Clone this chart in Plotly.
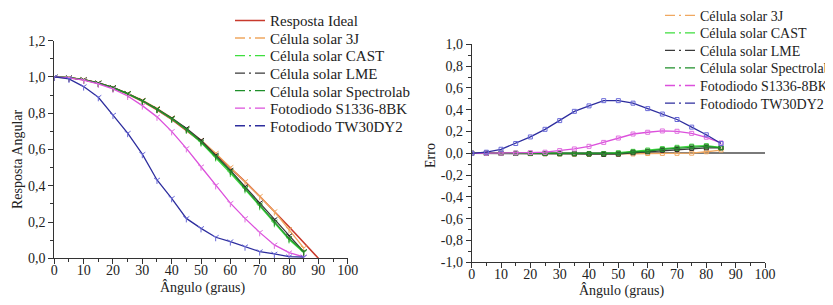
import plotly.graph_objects as go

# ---------------- data ----------------
angles_ideal = [0, 5, 10, 15, 20, 25, 30, 35, 40, 45, 50, 55, 60, 65, 70, 75, 80, 85, 90]
resp_ideal = [1.000, 0.996, 0.985, 0.966, 0.940, 0.906, 0.866, 0.819, 0.766, 0.707,
              0.643, 0.574, 0.500, 0.423, 0.342, 0.259, 0.174, 0.087, 0.000]

angles = [0, 5, 10, 15, 20, 25, 30, 35, 40, 45, 50, 55, 60, 65, 70, 75, 80, 85]

resp_3j = [1.000, 0.997, 0.987, 0.968, 0.943, 0.910, 0.872, 0.827, 0.775, 0.716,
           0.652, 0.580, 0.502, 0.424, 0.342, 0.258, 0.160, 0.057]
resp_cast = [1.000, 0.996, 0.985, 0.966, 0.940, 0.907, 0.868, 0.822, 0.769, 0.709,
             0.638, 0.556, 0.470, 0.380, 0.287, 0.193, 0.104, 0.032]
resp_lme = [1.000, 0.996, 0.985, 0.967, 0.942, 0.909, 0.870, 0.824, 0.773, 0.717,
            0.651, 0.569, 0.486, 0.395, 0.306, 0.214, 0.124, 0.037]
resp_spectrolab = [1.000, 0.996, 0.985, 0.966, 0.941, 0.908, 0.869, 0.823, 0.771, 0.711,
                   0.643, 0.562, 0.480, 0.387, 0.296, 0.201, 0.110, 0.037]
resp_s1336 = [1.000, 0.995, 0.983, 0.962, 0.934, 0.895, 0.842, 0.780, 0.700, 0.606,
              0.505, 0.402, 0.304, 0.220, 0.143, 0.074, 0.031, 0.008]
resp_tw30 = [1.000, 0.989, 0.947, 0.888, 0.790, 0.690, 0.574, 0.432, 0.331, 0.220,
             0.165, 0.116, 0.092, 0.064, 0.037, 0.024, 0.009, 0.006]

err_3j = [0.000, -0.001, -0.002, -0.002, -0.003, -0.004, -0.006, -0.008, -0.009, -0.009,
          -0.009, -0.006, -0.002, -0.001, 0.000, 0.001, 0.014, 0.030]
err_cast = [0.000, 0.000, 0.000, 0.000, 0.000, -0.001, -0.002, -0.003, -0.003, -0.002,
            0.005, 0.018, 0.030, 0.043, 0.055, 0.066, 0.070, 0.055]
err_lme = [0.000, 0.000, 0.000, -0.001, -0.002, -0.003, -0.004, -0.005, -0.007, -0.010,
           -0.008, 0.005, 0.014, 0.028, 0.036, 0.045, 0.050, 0.050]
err_spectrolab = [0.000, 0.000, 0.000, 0.000, -0.001, -0.002, -0.003, -0.004, -0.005, -0.004,
                  0.000, 0.012, 0.020, 0.036, 0.046, 0.058, 0.064, 0.050]
err_s1336 = [0.000, 0.000, 0.001, 0.003, 0.006, 0.010, 0.025, 0.040, 0.064, 0.100,
             0.140, 0.177, 0.193, 0.205, 0.202, 0.183, 0.147, 0.095]
err_tw30 = [0.000, 0.010, 0.037, 0.090, 0.150, 0.220, 0.300, 0.385, 0.435, 0.483,
            0.483, 0.460, 0.410, 0.360, 0.310, 0.240, 0.170, 0.090]

names = ["Célula solar 3J", "Célula solar CAST", "Célula solar LME",
         "Célula solar Spectrolab", "Fotodiodo S1336-8BK", "Fotodiodo TW30DY2"]
ideal_name = "Resposta Ideal"
x_title = "Ângulo (graus)"
y1_title = "Resposta Angular"
y2_title = "Erro"

x_ticks = [0, 10, 20, 30, 40, 50, 60, 70, 80, 90, 100]
y1_ticks = [0.0, 0.2, 0.4, 0.6, 0.8, 1.0, 1.2]
y1_labels = ["0,0", "0,2", "0,4", "0,6", "0,8", "1,0", "1,2"]
y2_ticks = [-1.0, -0.8, -0.6, -0.4, -0.2, 0.0, 0.2, 0.4, 0.6, 0.8, 1.0]
y2_labels = ["-1,0", "-0,8", "-0,6", "-0,4", "-0,2", "0,0", "0,2", "0,4", "0,6", "0,8", "1,0"]

# ---------------- styling ----------------
FONT = "Liberation Serif"
FS = 14
LEG_FS_LEFT = 15
LEG_FS_RIGHT = 14
TXT = "#222222"
ideal_color = "#c83a2c"
colors = ["#f0a860", "#3ede3e", "#3a3a3a", "#1f8f2a", "#dc50dc", "#2e2e9e"]
marker_colors = ["#f0a860", "#4cd84c", "#222222", "#2a8a2a", "#e070e0", "#6a6ad8"]
legend_dash = "10px,4px,2px,4px,12px"

resp = [resp_3j, resp_cast, resp_lme, resp_spectrolab, resp_s1336, resp_tw30]
errs = [err_3j, err_cast, err_lme, err_spectrolab, err_s1336, err_tw30]

# the page body adds an 8px margin, so the figure is 8px smaller and
# every pixel position below is given in figure coordinates (screen - 8)
W, H = 825, 297


def px_x(p):
    return p / W


def px_y(p):
    return (H - p) / H


fig = go.Figure()

left_leg_x = 222
left_leg_y0 = 12.7
right_leg_x = 652
right_leg_y0 = 7.7
leg_step = 17.55
legend_layouts = {}
leg_counter = [0]


def new_legend(xp, yp, fs):
    leg_counter[0] += 1
    key = "legend" if leg_counter[0] == 1 else "legend%d" % leg_counter[0]
    legend_layouts[key] = dict(x=px_x(xp), y=px_y(yp), xanchor="left", yanchor="middle",
                               bgcolor="rgba(0,0,0,0)", borderwidth=0,
                               font=dict(family=FONT, size=fs, color=TXT),
                               itemwidth=30, tracegroupgap=0)
    return key


# left chart
fig.add_trace(go.Scatter(x=angles_ideal, y=resp_ideal, mode="lines",
                         line=dict(color=ideal_color, width=1.6),
                         name=ideal_name, xaxis="x", yaxis="y",
                         legend=new_legend(left_leg_x, left_leg_y0, LEG_FS_LEFT),
                         showlegend=True))
for n, ys, c, mc in zip(names, resp, colors, marker_colors):
    fig.add_trace(go.Scatter(x=angles, y=ys, mode="lines+markers",
                             line=dict(color=c, width=1.3),
                             marker=dict(symbol="y-down", size=5,
                                         line=dict(color=mc, width=1)),
                             name=n, xaxis="x", yaxis="y", showlegend=False))
for i, (n, c) in enumerate(zip(names, colors)):
    fig.add_trace(go.Scatter(x=[None], y=[None], mode="lines",
                             line=dict(color=c, width=1.3, dash=legend_dash),
                             name=n, xaxis="x", yaxis="y",
                             legend=new_legend(left_leg_x, left_leg_y0 + leg_step * (i + 1),
                                               LEG_FS_LEFT),
                             showlegend=True))

# right chart
for n, ys, c, mc in zip(names, errs, colors, marker_colors):
    fig.add_trace(go.Scatter(x=angles, y=ys, mode="lines+markers",
                             line=dict(color=c, width=1.3),
                             marker=dict(symbol="square-open", size=4,
                                         color=mc, line=dict(color=mc, width=1)),
                             name=n, xaxis="x2", yaxis="y2", showlegend=False))
for i, (n, c) in enumerate(zip(names, colors)):
    fig.add_trace(go.Scatter(x=[None], y=[None], mode="lines",
                             line=dict(color=c, width=1.3, dash=legend_dash),
                             name=n, xaxis="x2", yaxis="y2",
                             legend=new_legend(right_leg_x, right_leg_y0 + leg_step * i,
                                               LEG_FS_RIGHT),
                             showlegend=True))

axis_common = dict(showline=True, linecolor="#333333", linewidth=1,
                   ticks="outside", ticklen=5, tickcolor="#333333",
                   showgrid=False, zeroline=False, automargin=False,
                   tickfont=dict(family=FONT, size=FS, color=TXT))
xminor = dict(ticks="outside", ticklen=3, dtick=5, tickcolor="#333333")
yminor = dict(ticks="outside", ticklen=3, dtick=0.1, tickcolor="#333333")


def title_ann(text, xp, yp, angle=0):
    return dict(text=text, x=px_x(xp), y=px_y(yp), xref="paper", yref="paper",
                xanchor="center", yanchor="middle", showarrow=False, textangle=angle,
                font=dict(family=FONT, size=FS, color=TXT))


fig.update_layout(
    template="none",
    width=W, height=H,
    margin=dict(l=0, r=0, t=0, b=0, pad=0, autoexpand=False),
    paper_bgcolor="white", plot_bgcolor="white",
    font=dict(family=FONT, size=FS, color=TXT),
    xaxis=dict(domain=[px_x(46.3), px_x(339.7)], range=[0, 100],
               tickvals=x_ticks, anchor="y", minor=xminor, ticklabelstandoff=-6,
               **axis_common),
    yaxis=dict(domain=[px_y(250.3), px_y(32.7)], range=[0, 1.2],
               tickvals=y1_ticks, ticktext=y1_labels, anchor="x", minor=yminor,
               **axis_common),
    xaxis2=dict(domain=[px_x(463.7), px_x(757)], range=[0, 100],
                tickvals=x_ticks, anchor="y2", minor=xminor, ticklabelstandoff=-6,
                **axis_common),
    yaxis2=dict(domain=[px_y(254.3), px_y(36.3)], range=[-1.0, 1.0],
                tickvals=y2_ticks, ticktext=y2_labels, anchor="x2", minor=yminor,
                **axis_common),
    annotations=[
        title_ann(x_title, 194.5, 279.5),
        title_ann(x_title, 613, 282),
        title_ann(y1_title, 9, 152, -90),
        title_ann(y2_title, 422, 147, -90),
    ],
    **legend_layouts,
)

# zero reference line of the error chart
fig.layout.yaxis2.zeroline = True
fig.layout.yaxis2.zerolinecolor = "#7a7a7a"
fig.layout.yaxis2.zerolinewidth = 2

fig.write_html("out.html")
